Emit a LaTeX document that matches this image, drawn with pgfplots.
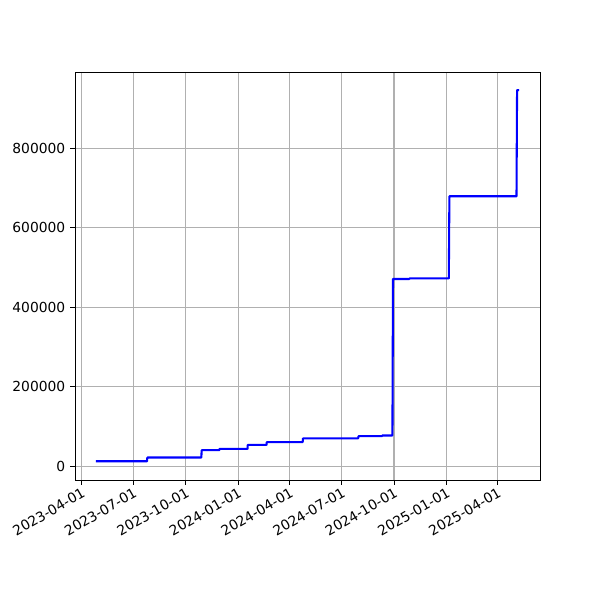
\documentclass[border=0pt]{standalone}
\usepackage{fontspec}
\setmainfont{DejaVu Sans}
\usepackage{pgfplots}
\pgfplotsset{compat=1.18}
\begin{document}
\begin{tikzpicture}
\path[use as bounding box] (0,0) rectangle (6in,6in);
\begin{axis}[
  at={(0.75in,1.2in)}, anchor=south west,
  scale only axis, width=4.65in, height=4.08in,
  xmin=-11.5, xmax=805.5,
  ymin=-34650, ymax=991650,
  axis line style={line width=0.7pt},
  tick align=outside, tick pos=left,
  major tick length=3.5pt,
  every tick/.style={black, line width=0.7pt},
  grid=major,
  major grid style={color=black!31, line width=0.8pt},
  xtick={0,91,183,275,366,457,549,641,731},
  xticklabels={2023-04-01,2023-07-01,2023-10-01,2024-01-01,2024-04-01,2024-07-01,2024-10-01,2025-01-01,2025-04-01},
  xticklabel style={rotate=30, anchor=north east, inner sep=1pt, font=\fontsize{10}{12}\selectfont},
  ytick={0,200000,400000,600000,800000},
  scaled y ticks=false,
  yticklabel style={font=\fontsize{10}{12}\selectfont},
  /pgf/number format/assume math mode=true,
  /pgf/number format/.cd, fixed, 1000 sep={}, precision=0,
]
\addplot[blue, line width=1.5pt, line join=round] coordinates {
(25,12600) (115,12600) (115.6,21900)
(210.5,21900) (211,40300)
(242,40300) (242.3,43500)
(291.6,43500) (292,53600)
(325,53600) (325.3,60400)
(388.5,60400) (389,70000)
(486,70000) (486.5,75500)
(528,75500) (528.3,77200)
(546.2,77200) (547.2,471000)
(576,471000) (576.3,472500)
(645.3,472500) (646.3,679000)
(764.2,679000) (765.2,946000)
(768.6,946000)
};
\end{axis}
\end{tikzpicture}
\end{document}
